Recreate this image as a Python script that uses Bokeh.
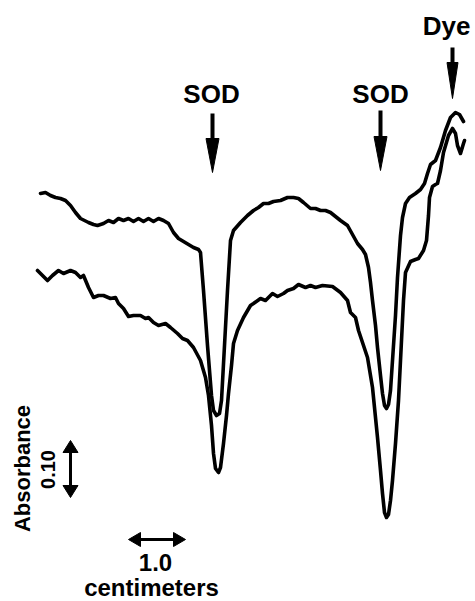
from bokeh.plotting import figure
from bokeh.models import Range1d, Label
from bokeh.embed import file_html
from bokeh.resources import INLINE
import math

# Densitometer scans of the gel, in chart-paper units (x: distance along gel, y: pen position)
upper_x = [40, 45, 50, 55, 60, 65, 70, 75, 80, 84, 88, 93, 97, 103, 108, 113, 118, 123, 128, 133,
           138, 143, 148, 153, 158, 163, 168, 173, 178, 183, 188, 193, 198, 200, 203, 207, 211, 213,
           216, 219, 221, 224, 227, 230, 233, 240, 247, 253, 258, 263, 268, 273, 280, 287, 293, 298,
           303, 310, 315, 320, 325, 330, 335, 340, 347, 352, 357, 362, 365, 368, 370, 372, 375, 377,
           380, 382, 384, 386, 388, 390, 392, 395, 397, 400, 402, 405, 409, 415, 420, 424, 427, 430,
           435, 440, 445, 450, 455, 459, 463]
upper_y = [193, 192, 195, 197, 198, 200, 205, 212, 218, 220, 222, 224, 225, 223, 220, 222, 218, 220, 218, 221,
           218, 221, 218, 221, 218, 220, 223, 232, 238, 241, 244, 247, 249, 252, 290, 345, 395, 410,
           415, 413, 400, 345, 290, 240, 230, 222, 215, 210, 207, 203, 203, 201, 200, 197, 197, 198,
           202, 208, 208, 210, 210, 212, 216, 220, 225, 234, 243, 249, 254, 267, 282, 300, 325, 347,
           375, 393, 405, 408, 404, 390, 360, 315, 277, 235, 217, 203, 197, 193, 189, 183, 173, 164,
           160, 147, 130, 117, 112, 114, 121]

lower_x = [37, 42, 47, 52, 58, 63, 70, 75, 80, 83, 88, 93, 98, 103, 110, 115, 118, 123, 128, 133,
           140, 145, 148, 153, 158, 165, 170, 177, 182, 187, 193, 200, 205, 208, 211, 213, 215, 218,
           220, 223, 226, 228, 231, 233, 237, 243, 250, 253, 260, 265, 272, 277, 283, 287, 293, 298,
           305, 310, 315, 322, 332, 340, 347, 350, 355, 358, 362, 367, 372, 377, 380, 382, 384, 386,
           388, 390, 392, 395, 398, 400, 403, 405, 410, 415, 418, 423, 426, 428, 429, 432, 435, 437,
           440, 443, 448, 452, 455, 457, 460, 463, 464]
lower_y = [270, 275, 280, 275, 270, 273, 270, 272, 277, 275, 287, 297, 295, 295, 298, 297, 303, 308, 316, 315,
           315, 318, 317, 322, 325, 323, 327, 333, 338, 340, 347, 360, 377, 395, 425, 453, 468, 472,
           467, 443, 415, 393, 365, 343, 330, 317, 305, 303, 298, 300, 293, 296, 293, 290, 288, 284,
           287, 285, 287, 285, 286, 292, 300, 312, 317, 330, 342, 357, 387, 437, 470, 493, 512, 517,
           514, 500, 480, 443, 400, 360, 300, 272, 261, 259, 258, 250, 240, 215, 197, 186, 184, 183,
           170, 152, 135, 128, 133, 145, 153, 143, 140]

# Band markers: label, position along the scan
band_labels = ["SOD", "SOD", "Dye"]
band_pos = [212, 380, 452]

FONT = "Liberation Sans"

p = figure(width=475, height=601, x_range=Range1d(0, 475), y_range=Range1d(601, 0),
           toolbar_location=None, output_backend="svg", min_border=0,
           x_axis_location=None, y_axis_location=None)
p.grid.visible = False
p.outline_line_color = None
p.background_fill_color = "white"

for xs, ys in ((upper_x, upper_y), (lower_x, lower_y)):
    p.line(xs, ys, line_color="black", line_width=3.6, line_join="round", line_cap="round")


def head(xt, yt, dx, dy, length, width):
    """Filled triangular arrow head with its tip at (xt, yt), pointing along (dx, dy)."""
    bx, by = xt - dx * length, yt - dy * length
    nx, ny = -dy, dx
    p.patch([xt, bx + nx * width / 2, bx - nx * width / 2],
            [yt, by + ny * width / 2, by - ny * width / 2],
            fill_color="black", line_color="black", line_width=1)


def down_arrow(x, y0, y1, length, width):
    p.line([x, x], [y0, y1 - length + 2], line_color="black", line_width=4)
    head(x, y1, 0, 1, length, width)


# Band arrows and labels
arrow_spans = [(113, 172, 34, 13), (110, 170, 34, 13), (47, 98, 36, 11)]
label_y = [93, 93, 25]
label_x = [211, 380, 446]
label_size = ["26px", "26px", "26px"]
for lab, x, (y0, y1, hl, hw), lx, ly, fs in zip(band_labels, band_pos, arrow_spans, label_x, label_y, label_size):
    down_arrow(x, y0, y1, hl, hw)
    p.add_layout(Label(x=lx, y=ly, text=lab, text_align="center", text_baseline="middle",
                       text_font=FONT, text_font_style="bold", text_font_size=fs,
                       text_color="black"))

# Absorbance scale bar (0.10)
p.line([70, 70], [450, 487], line_color="black", line_width=3)
head(70, 440, 0, -1, 12, 15)
head(70, 497, 0, 1, 12, 15)
p.add_layout(Label(x=22, y=468, text="Absorbance", angle=math.pi / 2, text_align="center",
                   text_baseline="middle", text_font=FONT, text_font_style="bold",
                   text_font_size="22px", text_color="black"))
p.add_layout(Label(x=47, y=469, text="0.10", angle=math.pi / 2, text_align="center",
                   text_baseline="middle", text_font=FONT, text_font_style="bold",
                   text_font_size="20px", text_color="black"))

# Distance scale bar (1.0 cm)
p.line([138, 175], [539, 539], line_color="black", line_width=3)
head(128, 539, -1, 0, 12, 14)
head(185, 539, 1, 0, 12, 14)
p.add_layout(Label(x=155, y=562, text="1.0", text_align="center", text_baseline="middle",
                   text_font=FONT, text_font_style="bold", text_font_size="24px",
                   text_color="black"))
p.add_layout(Label(x=151, y=587, text="centimeters", text_align="center", text_baseline="middle",
                   text_font=FONT, text_font_style="bold", text_font_size="24px",
                   text_color="black"))

open("out.html", "w").write(file_html(p, INLINE))
